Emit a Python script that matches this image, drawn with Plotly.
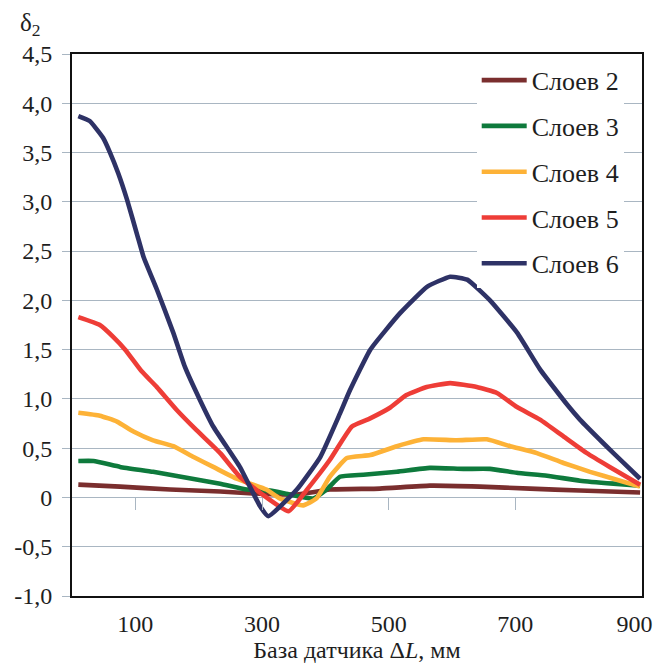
import plotly.graph_objects as go

# ---- data ----
names = ["Слоев 2", "Слоев 3", "Слоев 4", "Слоев 5", "Слоев 6"]
colors = ["#7A2E2E", "#0E7A3C", "#FDB237", "#EE3D37", "#2E3266"]

x2 = [10, 76, 155, 234, 286, 355, 407, 486, 565, 644, 723, 802, 897]
y2 = [0.13, 0.11, 0.08, 0.06, 0.04, 0.03, 0.08, 0.09, 0.12, 0.11, 0.09, 0.07, 0.05]

x3 = [10, 34, 76, 128, 181, 234, 276, 313, 344, 381, 402, 423, 460, 513, 565, 618, 660, 702, 750, 802, 855, 897]
y3 = [0.37, 0.37, 0.31, 0.26, 0.20, 0.14, 0.08, 0.07, 0.03, -0.01, 0.08, 0.21, 0.23, 0.26, 0.30, 0.29, 0.29, 0.25, 0.22, 0.17, 0.14, 0.12]

x4 = [10, 44, 71, 97, 128, 160, 192, 223, 260, 307, 328, 365, 386, 407, 434, 471, 513, 555, 607, 655, 692, 734, 776, 818, 860, 897]
y4 = [0.86, 0.83, 0.77, 0.67, 0.58, 0.52, 0.41, 0.31, 0.19, 0.08, -0.01, -0.08, -0.01, 0.21, 0.40, 0.43, 0.52, 0.59, 0.58, 0.59, 0.52, 0.45, 0.35, 0.26, 0.18, 0.11]

x5 = [10, 44, 65, 84, 110, 134, 165, 197, 234, 265, 307, 342, 371, 407, 442, 470, 502, 528, 560, 597, 639, 671, 702, 739, 776, 813, 849, 897]
y5 = [1.83, 1.75, 1.63, 1.50, 1.28, 1.12, 0.89, 0.68, 0.45, 0.21, 0.0, -0.14, 0.08, 0.38, 0.72, 0.80, 0.91, 1.04, 1.12, 1.16, 1.12, 1.06, 0.92, 0.79, 0.62, 0.45, 0.31, 0.13]

x6 = [10, 28, 49, 60, 73, 87, 104, 113, 134, 160, 178, 202, 223, 265, 297, 310, 355, 392, 423, 439, 471, 518, 561, 597, 624, 660, 703, 739, 782, 802, 839, 871, 897]
y6 = [3.87, 3.82, 3.65, 3.50, 3.29, 3.02, 2.64, 2.44, 2.11, 1.67, 1.33, 0.99, 0.72, 0.31, -0.09, -0.19, 0.08, 0.41, 0.85, 1.09, 1.50, 1.87, 2.14, 2.24, 2.21, 2.00, 1.67, 1.30, 0.94, 0.79, 0.55, 0.35, 0.19]

xs = [x2, x3, x4, x5, x6]
ys = [y2, y3, y4, y5, y6]

y_tickvals = [-1.0, -0.5, 0, 0.5, 1.0, 1.5, 2.0, 2.5, 3.0, 3.5, 4.0, 4.5]
y_ticktext = ["-1,0", "-0,5", "0", "0,5", "1,0", "1,5", "2,0", "2,5", "3,0", "3,5", "4,0", "4,5"]
x_tickvals = [100, 300, 500, 700, 900]
x_ticktext = ["100", "300", "500", "700", "900"]
# the last label is pulled inward to fit the frame, as in the source chart
x_labelpos = [100, 300, 500, 700, 888]

FONT = "'Liberation Serif', 'Times New Roman', Tinos, 'DejaVu Serif', 'Noto Serif', serif"
GRID = "#A9B6C2"
TXT = "#1E1E1E"

fig = go.Figure()
for i in range(len(names)):
    fig.add_trace(go.Scatter(
        x=xs[i], y=ys[i], mode="lines", name=names[i],
        line=dict(color=colors[i], width=4.6, shape="spline", smoothing=0.4),
        legendgroup=f"g{i}",
    ))

# carrier trace (invisible) so the tick-only axis at y = 0 is drawn
fig.add_trace(go.Scatter(
    x=x2, y=y2, xaxis="x2", yaxis="y", mode="lines",
    line=dict(width=0, color="rgba(0,0,0,0)"), opacity=0,
    showlegend=False, hoverinfo="skip",
))

fig.update_layout(
    width=653, height=660,
    margin=dict(l=64, r=19, t=46, b=72),
    paper_bgcolor="white", plot_bgcolor="white",
    font=dict(family=FONT, size=24, color=TXT),
    showlegend=True,
    legend=dict(
        x=0.71, y=0.995, xanchor="left", yanchor="top",
        bgcolor="white", borderwidth=0,
        font=dict(family=FONT, size=26, color=TXT),
        tracegroupgap=9, traceorder="grouped",
        itemwidth=45,
    ),
    xaxis=dict(
        range=[0, 900], tickvals=x_labelpos, ticktext=x_ticktext,
        showgrid=False, zeroline=False, ticks="", automargin=False,
        showline=True, linecolor="#111111", linewidth=2, mirror=True,
        title=dict(text="База датчика Δ<i>L</i>, мм", standoff=4,
                   font=dict(family=FONT, size=24, color=TXT)),
        ticklabelstandoff=5,
    ),
    xaxis2=dict(
        range=[0, 900], overlaying="x", anchor="free",
        position=1.0 / 5.5, side="bottom", automargin=False,
        tickvals=x_tickvals[:4], showticklabels=False,
        ticks="outside", ticklen=12, tickcolor=GRID, tickwidth=1,
        showgrid=False, zeroline=False, showline=False,
    ),
    yaxis=dict(
        range=[-1.0, 4.5], tickvals=y_tickvals, ticktext=y_ticktext,
        showgrid=True, gridcolor=GRID, gridwidth=1, zeroline=False,
        ticks="outside", ticklen=8, tickcolor=GRID, automargin=False,
        showline=True, linecolor="#111111", linewidth=2, mirror=True,
        ticklabelstandoff=5,
    ),
    annotations=[dict(
        text="δ<sub>2</sub>", xref="paper", yref="paper",
        x=-0.095, y=1.022, xanchor="left", yanchor="bottom",
        showarrow=False, font=dict(family=FONT, size=25, color=TXT),
    )],
)

fig.write_html("out.html")
